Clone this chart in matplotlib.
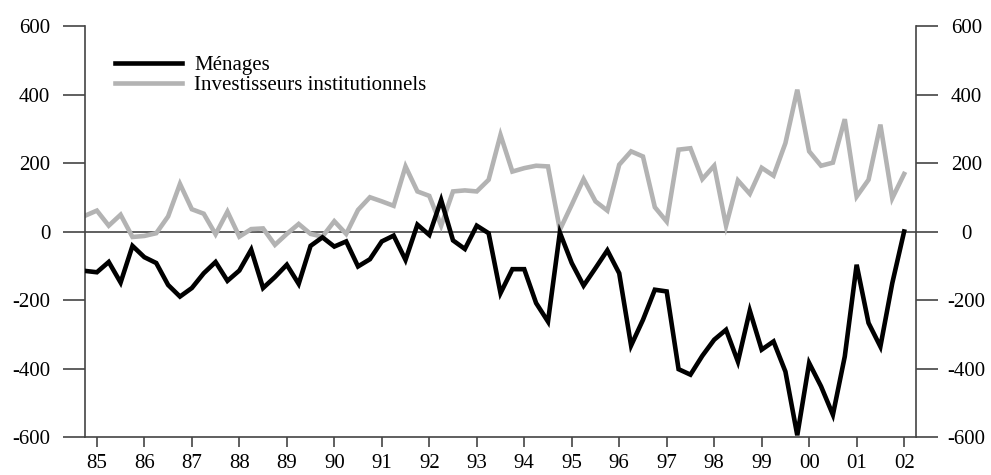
import numpy as np
import matplotlib
matplotlib.use("Agg")
import matplotlib.pyplot as plt
import matplotlib.transforms as mtransforms

# Quarterly data, 1984Q4 .. 2002Q1
menages = [-115, -119, -89, -149, -42, -75, -92, -156, -190, -165,
           -122, -89, -144, -114, -53, -165, -133, -97, -153, -42,
           -17, -44, -29, -102, -81, -29, -12, -83, 20, -10,
           92, -26, -51, 17, -5, -180, -110, -110, -209, -263,
           -3, -92, -158, -107, -55, -122, -333, -258, -170, -175,
           -402, -418, -363, -316, -287, -380, -231, -345, -321, -409,
           -595, -384, -452, -535, -365, -97, -267, -336, -151, 0]
investisseurs = [46, 61, 17, 49, -16, -13, -5, 44, 139, 65,
                 52, -8, 58, -15, 7, 9, -39, -7, 22, -7,
                 -15, 30, -7, 63, 100, 88, 75, 190, 117, 104,
                 17, 117, 120, 117, 151, 282, 175, 185, 192, 190,
                 5, 78, 153, 88, 61, 195, 234, 219, 71, 29,
                 239, 243, 153, 192, 17, 149, 110, 186, 163, 258,
                 414, 234, 192, 201, 328, 102, 151, 312, 97, 168]
series_labels = ["Ménages", "Investisseurs institutionnels"]
tick_years = list(range(1985, 2003))
tick_labels = [f"{y % 100:02d}" for y in tick_years]
y_ticks = [-600, -400, -200, 0, 200, 400, 600]

plt.rcParams['font.family'] = ['Liberation Serif', 'DejaVu Serif']
fs = 15

fig = plt.figure(figsize=(9.91, 4.75), dpi=100)
ax = fig.add_axes([85/991, 1-437/475, (916-85)/991, (437-26)/475])

x = 1984.75 + 0.25*np.arange(len(menages))
ax.axhline(0, color='#444444', lw=1.2, zorder=1)
ax.plot(x, menages, color='black', lw=3.3, solid_joinstyle='miter', label=series_labels[0], zorder=3)
ax.plot(x, investisseurs, color='#b3b3b3', lw=3.3, solid_joinstyle='miter', label=series_labels[1], zorder=2)

ax.set_xlim(1984.75, 2002.25)
ax.set_ylim(-600, 600)
ax.set_xticks(tick_years)
ax.set_xticklabels(tick_labels, fontsize=fs)
ax.set_yticks(y_ticks)
ax.set_yticklabels([str(v) for v in y_ticks], fontsize=fs)

ax.spines['top'].set_visible(False)
for s in ['left', 'right', 'bottom']:
    ax.spines[s].set_color('#444444')
    ax.spines[s].set_linewidth(1.2)

ax.tick_params(axis='y', which='both', direction='out', length=16, width=1.2,
               color='#444444', left=True, right=True, labelleft=True, labelright=True,
               pad=9)
ax.tick_params(axis='x', direction='out', length=7, width=1.2, color='#444444', pad=5)

offset = mtransforms.ScaledTranslation(11.5/72, 0, fig.dpi_scale_trans)
for t in ax.yaxis.get_major_ticks():
    t.label2.set_horizontalalignment('center')
    t.label2.set_fontsize(fs)
    t.label2.set_transform(t.label2.get_transform() + offset)

leg = ax.legend(loc='upper left', bbox_to_anchor=(0.036, 0.928), frameon=False,
                fontsize=fs, handlelength=3.2, handletextpad=0.62, labelspacing=0.02,
                borderpad=0, borderaxespad=0)

fig.savefig('out.png', dpi=100)
